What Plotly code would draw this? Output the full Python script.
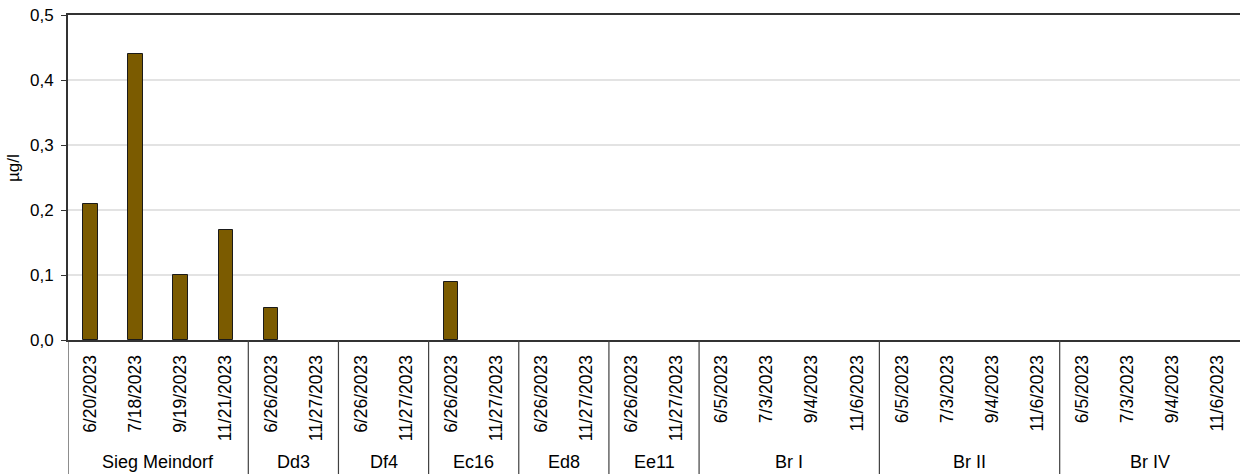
import plotly.graph_objects as go

# Sampling sites and their sampling dates
sites = ["Sieg Meindorf", "Dd3", "Df4", "Ec16", "Ed8", "Ee11", "Br I", "Br II", "Br IV"]
site_dates = [
    ["6/20/2023", "7/18/2023", "9/19/2023", "11/21/2023"],
    ["6/26/2023", "11/27/2023"],
    ["6/26/2023", "11/27/2023"],
    ["6/26/2023", "11/27/2023"],
    ["6/26/2023", "11/27/2023"],
    ["6/26/2023", "11/27/2023"],
    ["6/5/2023", "7/3/2023", "9/4/2023", "11/6/2023"],
    ["6/5/2023", "7/3/2023", "9/4/2023", "11/6/2023"],
    ["6/5/2023", "7/3/2023", "9/4/2023", "11/6/2023"],
]
# Measured concentrations in µg/l (None = no value shown)
site_values = [
    [0.21, 0.44, 0.10, 0.17],
    [0.05, None],
    [None, None],
    [0.09, None],
    [None, None],
    [None, None],
    [None, None, None, None],
    [None, None, None, None],
    [None, None, None, None],
]
y_ticks = [0.0, 0.1, 0.2, 0.3, 0.4, 0.5]

dates = [d for grp in site_dates for d in grp]
values = [v for grp in site_values for v in grp]
n = len(dates)
xpos = [i + 0.5 for i in range(n)]

W, H = 1240, 474
ML, MR, MT, MB = 68, 0, 15, 134
plot_h = H - MT - MB
font = "Liberation Sans, Arial, sans-serif"

fig = go.Figure(go.Bar(
    x=xpos, y=values, width=0.32,
    marker=dict(color="#7B5B00", line=dict(color="#1a1a1a", width=1)),
    hoverinfo="skip",
))

shapes = []
annotations = []
start = 0
for site, grp in zip(sites, site_dates):
    # divider below the axis at the left edge of each site group
    shapes.append(dict(type="line", xref="x", yref="paper", x0=start, x1=start,
                       y0=0, y1=-MB / plot_h, line=dict(color="#404040", width=1.2)))
    annotations.append(dict(x=start + len(grp) / 2, y=(340 - 462) / plot_h,
                            xref="x", yref="paper", text=site, showarrow=False,
                            xanchor="center", yanchor="middle",
                            font=dict(family=font, size=18, color="#000")))
    start += len(grp)

annotations.append(dict(x=(14 - ML) / (W - ML - MR), y=(340 - 168) / plot_h,
                        xref="paper", yref="paper", text="µg/l", textangle=-90,
                        showarrow=False, xanchor="center", yanchor="middle",
                        font=dict(family=font, size=17, color="#000")))

fig.update_layout(
    width=W, height=H,
    margin=dict(l=ML, r=MR, t=MT, b=MB),
    paper_bgcolor="white", plot_bgcolor="white",
    separators=",.",
    showlegend=False,
    bargap=0,
    shapes=shapes,
    annotations=annotations,
    font=dict(family=font, size=17, color="#000"),
    xaxis=dict(
        range=[0, n], tickmode="array", tickvals=xpos, ticktext=dates,
        tickangle=-90, ticks="", showgrid=False, zeroline=False,
        showline=True, linecolor="#333333", linewidth=2, mirror=True,
        tickfont=dict(family=font, size=17.5, color="#000"),
        ticklabelstandoff=6,
    ),
    yaxis=dict(
        range=[0, 0.5], tickmode="array", tickvals=y_ticks, tickformat=".1f",
        ticks="outside", ticklen=5, tickcolor="#333333",
        showgrid=True, gridcolor="#E3E3E3", gridwidth=1.5, zeroline=False,
        showline=True, linecolor="#333333", linewidth=2,
        tickfont=dict(family=font, size=17, color="#000"),
        ticklabelstandoff=4,
    ),
)

fig.write_html("out.html")
